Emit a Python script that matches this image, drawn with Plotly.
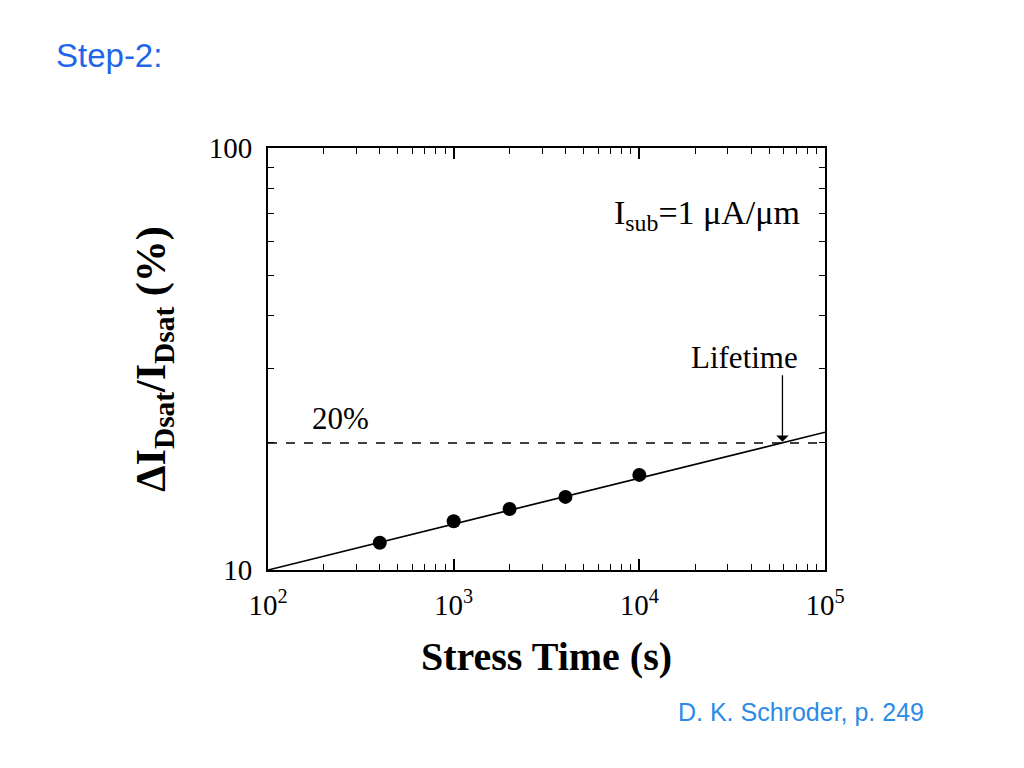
import plotly.graph_objects as go
import math

# Data
stress_time = [400, 1000, 2000, 4000, 10000]
delta_idsat = [11.6, 13.05, 13.95, 14.9, 16.8]
fit_time = [100, 100000]
fit_delta = [10, 21.2]
criterion_time = [100, 100000]
criterion_delta = [20, 20]
lifetime_x = 59000
lifetime_y = 20
x_tickvals = [100, 1000, 10000, 100000]
x_ticktext = ["10<sup>2</sup>", "10<sup>3</sup>", "10<sup>4</sup>", "10<sup>5</sup>"]
y_tickvals = [10, 100]
y_ticktext = ["10", "100"]
x_minor = [m * 10 ** d for d in (2, 3, 4) for m in range(2, 10)]
y_minor = [m * 10 for m in range(2, 10)]

serif = "Liberation Serif"

fig = go.Figure()
fig.add_trace(go.Scatter(x=criterion_time, y=criterion_delta, mode="lines",
                         line=dict(color="black", width=1.5, dash="dash"), showlegend=False))
fig.add_trace(go.Scatter(x=fit_time, y=fit_delta, mode="lines",
                         line=dict(color="black", width=1.6), showlegend=False))
fig.add_trace(go.Scatter(x=stress_time, y=delta_idsat, mode="markers",
                         marker=dict(color="black", size=14), showlegend=False))

def axis_common(minor_vals):
    return dict(type="log", showgrid=False, zeroline=False, showline=True,
                linecolor="black", linewidth=2, mirror="allticks", ticks="inside",
                ticklen=11, tickwidth=1.5, tickcolor="black",
                tickfont=dict(family=serif, size=29, color="black"),
                minor=dict(ticks="inside", ticklen=6, tickwidth=1.2, tickcolor="black",
                           showgrid=False, tickmode="array", tickvals=minor_vals))

fig.update_xaxes(**axis_common(x_minor), range=[2, 5], tickmode="array",
                 tickvals=x_tickvals, ticktext=x_ticktext, ticklabelstandoff=8,
                 title=dict(text="<b>Stress Time (s)</b>", font=dict(family=serif, size=40, color="black"),
                            standoff=22))
fig.update_yaxes(**axis_common(y_minor), range=[1, 2], tickmode="array",
                 tickvals=y_tickvals, ticktext=y_ticktext, ticklabelstandoff=8,
                 title=dict(text="<b>ΔI<sub>Dsat</sub>/I<sub>Dsat</sub> (%)</b>",
                            font=dict(family=serif, size=42, color="black"), standoff=30))

pw, ph = 1024 - 268 - 199, 768 - 148 - 198
def px(xp):
    return (xp - 268) / pw
def py(yp):
    return (768 - 198 - yp) / ph

anns = [
    dict(x=px(612), y=py(215), xref="paper", yref="paper", text="I<sub>sub</sub>=1 μA/μm",
         showarrow=False, xanchor="left", yanchor="middle",
         font=dict(family=serif, size=34, color="black")),
    dict(x=px(744), y=py(357), xref="paper", yref="paper", text="Lifetime",
         showarrow=False, xanchor="center", yanchor="middle",
         font=dict(family=serif, size=31, color="black")),
    dict(x=math.log10(lifetime_x), y=math.log10(lifetime_y) + 0.003, xref="x", yref="y",
         text="", showarrow=True, ax=0, ay=-68, arrowhead=1, arrowsize=1.6,
         arrowwidth=1.3, arrowcolor="black"),
    dict(x=px(340), y=py(418), xref="paper", yref="paper", text="20%",
         showarrow=False, xanchor="center", yanchor="middle",
         font=dict(family=serif, size=31, color="black")),
    dict(x=px(54), y=py(56), xref="paper", yref="paper", text="Step-2:", showarrow=False,
         xanchor="left", yanchor="middle", font=dict(family="Liberation Sans", size=33, color="#1f66e8")),
    dict(x=px(676), y=py(712), xref="paper", yref="paper", text="D. K. Schroder, p. 249",
         showarrow=False, xanchor="left", yanchor="middle",
         font=dict(family="Liberation Sans", size=25, color="#2b8be6")),
]

fig.update_layout(
    width=1024, height=768,
    margin=dict(l=268, r=199, t=148, b=198),
    paper_bgcolor="white", plot_bgcolor="white",
    annotations=anns,
)

fig.write_html("out.html", config={"displayModeBar": False},
               post_script="document.body.style.margin='0';document.body.style.overflow='hidden';")
